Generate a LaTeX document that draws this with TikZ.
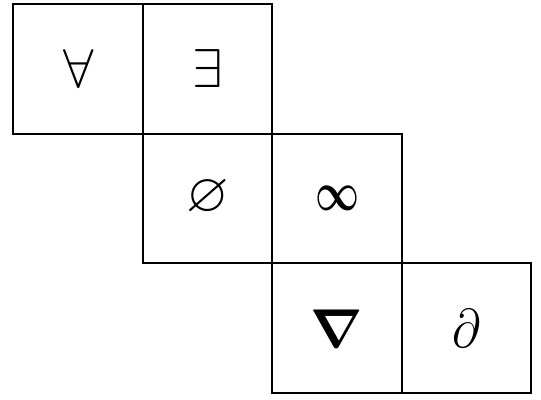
\documentclass[tikz,border=0pt]{standalone}
\usepackage{amsmath}
\usepackage{amssymb}

\begin{document}
\begin{tikzpicture}[x=0.316pt, y=0.316pt, line width=0.6pt, font=\LARGE]
\useasboundingbox (0,0) rectangle (541,399);
% Row 1 -- the two quantifiers
\draw (13.3,265.2) rectangle (142.8,394.7);
\node (forall) at (78.6,330) {$\forall$};
\draw (142.8,265.2) rectangle (272.3,394.7);
\node (exists) at (207.6,330) {$\exists$};
% Row 2 -- empty set and infinity
\draw (142.8,135.7) rectangle (272.3,265.2);
\node (empty) at (207.6,201.5) {$\varnothing$};
\draw (272.3,135.7) rectangle (401.8,265.2);
\node[xscale=0.7] (infty) at (337.1,200.5) {$\boldsymbol{\infty}$};
% Row 3 -- nabla and partial
\draw (272.3,6.2) rectangle (401.8,135.7);
\node (nabla) at (337.1,70) {$\boldsymbol{\nabla}$};
\draw (401.8,6.2) rectangle (531.3,135.7);
\node[xscale=0.9] (partial) at (466.6,70) {$\partial$};
\end{tikzpicture}
\end{document}
